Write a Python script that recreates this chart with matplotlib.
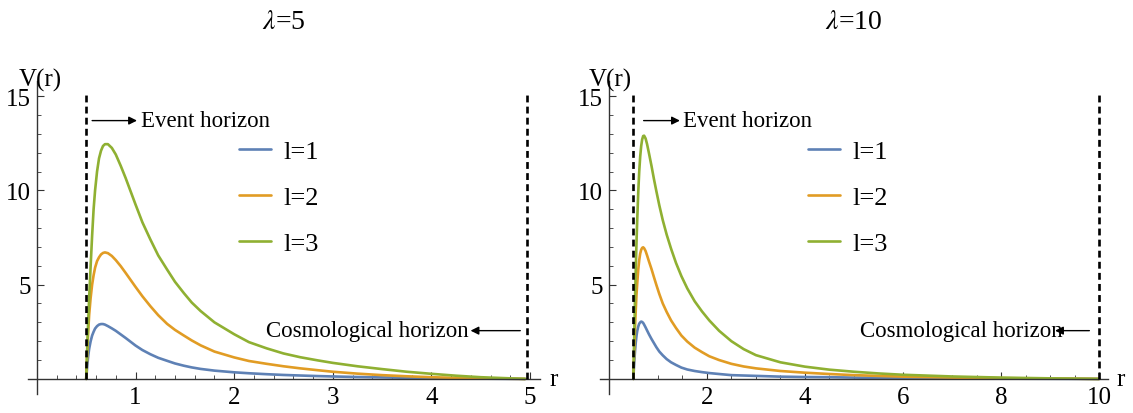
import matplotlib
matplotlib.use("Agg")
import matplotlib.pyplot as plt
from matplotlib.ticker import MultipleLocator

plt.rcParams['font.family'] = ['Liberation Serif', 'DejaVu Serif']
plt.rcParams['mathtext.fontset'] = 'stix'

# --- data (lambda = 5) ---
r_left = [0.5, 0.51, 0.52, 0.53, 0.545, 0.56, 0.575, 0.59, 0.61, 0.63, 0.65, 0.67,
          0.69, 0.72, 0.76, 0.8, 0.85, 0.9, 0.95, 1.0, 1.07, 1.15, 1.23, 1.32, 1.4,
          1.49, 1.57, 1.66, 1.8, 2.0, 2.15, 2.33, 2.5, 2.67, 2.85, 3.0, 3.25, 3.5,
          3.75, 4.0, 4.25, 4.5, 4.75, 4.95]
v_left_l1 = [0, 0.65, 1.2, 1.6, 2.0, 2.3, 2.5, 2.67, 2.8, 2.88, 2.91, 2.91,
             2.88, 2.8, 2.68, 2.55, 2.36, 2.17, 1.97, 1.77, 1.53, 1.31, 1.12, 0.96, 0.82,
             0.7, 0.61, 0.53, 0.44, 0.35, 0.3, 0.25, 0.21, 0.18, 0.15, 0.13, 0.1, 0.08,
             0.06, 0.04, 0.027, 0.015, 0.006, 0]
v_left_l2 = [0, 1.3, 2.5, 3.4, 4.3, 5.0, 5.5, 5.9, 6.25, 6.45, 6.6, 6.68,
             6.71, 6.67, 6.52, 6.3, 5.98, 5.62, 5.25, 4.88, 4.38, 3.86, 3.38, 2.92, 2.6,
             2.3, 2.04, 1.78, 1.45, 1.14, 0.95, 0.8, 0.67, 0.56, 0.46, 0.38, 0.28, 0.2,
             0.14, 0.09, 0.055, 0.03, 0.012, 0]
v_left_l3 = [0, 1.6, 3.0, 4.3, 6.0, 7.6, 9.0, 10.0, 11.0, 11.7, 12.1, 12.35,
             12.45, 12.45, 12.25, 11.9, 11.3, 10.65, 9.95, 9.25, 8.3, 7.4, 6.55, 5.8, 5.15,
             4.55, 4.05, 3.6, 3.0, 2.37, 1.95, 1.62, 1.35, 1.15, 0.98, 0.85, 0.67, 0.52,
             0.38, 0.27, 0.17, 0.09, 0.04, 0]

# --- data (lambda = 10) ---
r_right = [0.5, 0.51, 0.52, 0.535, 0.55, 0.565, 0.58, 0.6, 0.62, 0.64, 0.66, 0.68,
           0.7, 0.72, 0.75, 0.78, 0.82, 0.87, 0.92, 0.97, 1.03, 1.1, 1.18, 1.27, 1.37,
           1.48, 1.6, 1.75, 1.9, 2.05, 2.25, 2.5, 2.75, 3.0, 3.5, 4.0, 4.5, 5.0, 5.5,
           6.0, 7.0, 8.0, 9.0, 10.0]
v_right_l1 = [0, 0.5, 0.95, 1.5, 1.95, 2.3, 2.55, 2.78, 2.93, 3.0, 3.04, 3.02,
              2.97, 2.88, 2.73, 2.57, 2.36, 2.12, 1.9, 1.68, 1.45, 1.25, 1.05, 0.88, 0.74,
              0.6, 0.5, 0.42, 0.36, 0.31, 0.26, 0.2, 0.18, 0.16, 0.12, 0.1, 0.09, 0.07, 0.055,
              0.04, 0.025, 0.015, 0.008, 0]
v_right_l2 = [0, 0.9, 1.7, 2.8, 3.7, 4.5, 5.1, 5.8, 6.3, 6.65, 6.85, 6.95,
              6.98, 6.93, 6.78, 6.55, 6.22, 5.83, 5.4, 4.98, 4.5, 4.0, 3.55, 3.1, 2.7,
              2.3, 1.98, 1.66, 1.42, 1.2, 1.0, 0.8, 0.66, 0.56, 0.42, 0.33, 0.26, 0.2, 0.16,
              0.12, 0.07, 0.04, 0.02, 0]
v_right_l3 = [0, 1.3, 2.5, 4.3, 5.9, 7.3, 8.5, 9.9, 11.0, 11.8, 12.35, 12.7,
              12.88, 12.9, 12.75, 12.45, 11.95, 11.3, 10.6, 9.95, 9.2, 8.42, 7.65, 6.9, 6.15,
              5.45, 4.8, 4.12, 3.58, 3.1, 2.55, 2.0, 1.58, 1.26, 0.88, 0.65, 0.49, 0.38, 0.29,
              0.22, 0.13, 0.07, 0.03, 0]

labels = ['l=1', 'l=2', 'l=3']
colors = ['#5E81B5', '#E19C24', '#8FB032']
titles = ['$\\lambda$=5', '$\\lambda$=10']
horizons_left = [0.5, 4.97]
horizons_right = [0.5, 10.0]

W, H = 1133, 414
fig = plt.figure(figsize=(W / 100, H / 100), dpi=100)


def px_axes(x0, x1, y0, y1):
    return fig.add_axes([x0 / W, (H - y1) / H, (x1 - x0) / W, (y1 - y0) / H])


ax1 = px_axes(28, 540, 82, 395)
ax2 = px_axes(600, 1108, 82, 395)

panels = [
    (ax1, r_left, [v_left_l1, v_left_l2, v_left_l3], (-0.09, 5.1), horizons_left, 1, 0.2,
     dict(ev=(0.56, 1.015, 1.056), cos=(4.9, 4.396, 4.376), rlab=5.24, leg_x=239)),
    (ax2, r_right, [v_right_l1, v_right_l2, v_right_l3], (-0.18, 10.18), horizons_right, 2, 0.5,
     dict(ev=(0.71, 1.45, 1.51), cos=(9.8, 9.1, 9.26), rlab=10.43, leg_x=808)),
]

for (ax, r, series, xlim, hor, major, minor, pos), title in zip(panels, titles):
    for v, lab, c in zip(series, labels, colors):
        ax.plot(r, v, color=c, lw=1.9, label=lab, solid_capstyle='round',
                solid_joinstyle='round')

    ax.vlines(hor, 0, 15.1, colors='black', linestyles=(0, (2.6, 1.6)), lw=1.9, zorder=3)

    ax.set_xlim(*xlim)
    ax.set_ylim(-0.8, 15.8)
    for s in ['top', 'right']:
        ax.spines[s].set_visible(False)
    ax.spines['left'].set_position(('data', 0))
    ax.spines['bottom'].set_position(('data', 0))
    for s in ['left', 'bottom']:
        ax.spines[s].set_color('#333333')
        ax.spines[s].set_linewidth(1.0)
    ax.patch.set_visible(False)

    ax.xaxis.set_major_locator(MultipleLocator(major))
    ax.xaxis.set_minor_locator(MultipleLocator(minor))
    ax.yaxis.set_major_locator(MultipleLocator(5))
    ax.yaxis.set_minor_locator(MultipleLocator(1))
    ax.set_xticks([t for t in ax.get_xticks() if 0 < t <= xlim[1]])
    ax.set_yticks([5, 10, 15])
    ax.tick_params(which='major', direction='in', length=5, width=0.8, color='#333333',
                   labelsize=18)
    ax.tick_params(which='minor', direction='in', length=3, width=0.6, color='#333333')
    ax.tick_params(axis='x', pad=5)
    ax.tick_params(axis='y', pad=4)

    ax.text(0.5, 1.19, title, transform=ax.transAxes, ha='center', va='center', fontsize=20)
    ax.text(0.03, 1.006, 'V(r)', transform=ax.get_xaxis_transform(), ha='center',
            va='center', fontsize=18)
    ax.text(pos['rlab'], 0, 'r', ha='center', va='center', fontsize=18, clip_on=False)

    t0, t1, tx = pos['ev']
    ax.annotate('', xy=(t1, 13.7), xytext=(t0, 13.7),
                arrowprops=dict(arrowstyle='-|>', lw=1.0, color='black',
                                mutation_scale=12, shrinkA=0, shrinkB=0))
    ax.text(tx, 13.7, 'Event horizon', ha='left', va='center', fontsize=16.5)

    c0, c1, cx = pos['cos']
    ax.text(cx, 2.56, 'Cosmological horizon', ha='right', va='center', fontsize=16.5)
    ax.annotate('', xy=(c1, 2.56), xytext=(c0, 2.56),
                arrowprops=dict(arrowstyle='-|>', lw=1.0, color='black',
                                mutation_scale=12, shrinkA=0, shrinkB=0))

    ax.legend(loc='upper left', bbox_to_anchor=(pos['leg_x'] / W, (H - 141) / H),
              bbox_transform=fig.transFigure, frameon=False, fontsize=19,
              handlelength=1.2, handletextpad=0.5, labelspacing=0.85,
              borderpad=0, borderaxespad=0)

fig.savefig('out.png', dpi=100)
